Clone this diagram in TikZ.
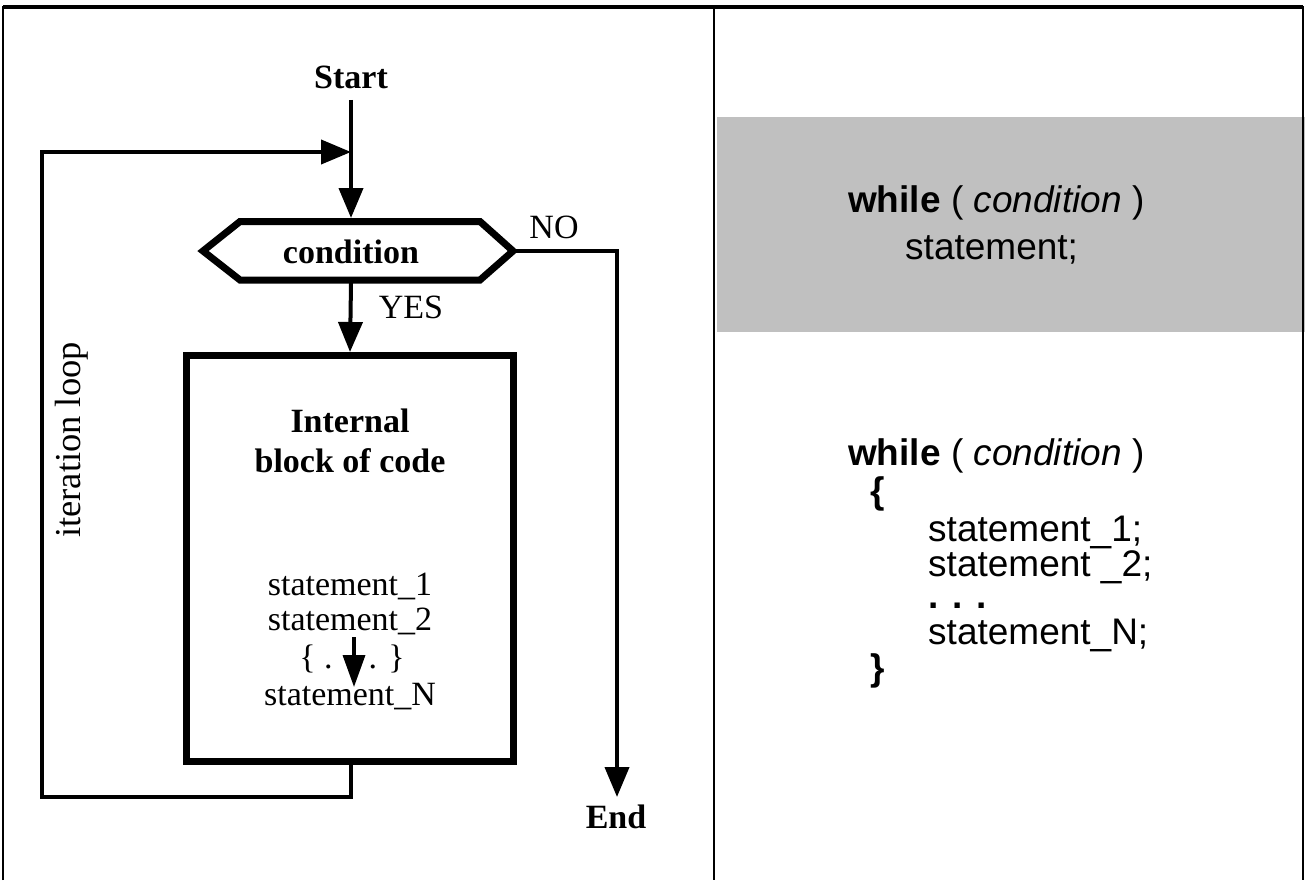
\documentclass[tikz,border=0pt]{standalone}
\usepackage{fontspec}
\setmainfont{Liberation Serif}
\newfontfamily\arialfont{Liberation Sans}
\usetikzlibrary{arrows.meta}
\definecolor{grayfill}{HTML}{C0C0C0}
\begin{document}
\begin{tikzpicture}[x=1pt,y=-1pt,
  frame/.style={line width=2.5pt},
  conn/.style={line width=4pt},
  arr/.style={conn, -{Triangle[length=30pt,width=24pt]}},
  shp/.style={line width=7pt, line join=miter},
  tms/.style={font=\fontsize{34}{38}\selectfont, inner sep=0pt, anchor=base},
  tmsb/.style={tms, font=\fontsize{34}{38}\selectfont\bfseries},
  ar/.style={font=\arialfont\fontsize{37}{42}\selectfont, inner sep=0pt, anchor=base west},
]
\useasboundingbox (0,0) rectangle (1305,880);
% frame
\fill[grayfill] (717,117) rectangle (1305,332);
\draw[frame] (3,880) -- (3,7) -- (1303,7) -- (1303,880);
\draw[line width=3.5pt] (3,7) -- (1303,7);
\draw[frame] (714,7) -- (714,880);

% right side code
\node[ar] (w1) at (848,212) {\textbf{while} ( \textit{condition} )};
\node[ar] (s) at (905,259) {statement;};
\node[ar] (w2) at (848,465) {\textbf{while} ( \textit{condition} )};
\node[ar] (lb) at (870,503) {\textbf{\{}};
\node[ar] (s1) at (928,541) {statement\_1;};
\node[ar] (s2) at (928,576) {statement \_2;};
\node[ar] (dots) at (928,608) {\textbf{. . .}};
\node[ar] (sN) at (928,644) {statement\_N;};
\node[ar] (rb) at (870,680) {\textbf{\}}};

% flowchart
\node[tmsb] (start) at (351,89) {Start};
\coordinate (s0) at (351,100);
\coordinate (j) at (351,152);
\coordinate (ht) at (351,218);
\coordinate (hb) at (351,283);
\coordinate (hl) at (203,251);
\coordinate (htl) at (240,221.5);
\coordinate (htr) at (480,221.5);
\coordinate (hr) at (513,251);
\coordinate (hbr) at (480,280);
\coordinate (hbl) at (240,280);
\draw[shp] (hl) -- (htl) -- (htr) -- (hr) -- (hbr) -- (hbl) -- cycle;
\node[tmsb] (cond) at (351,263) {condition};
\node[tms] (no) at (554,238) {NO};
\node[tms] (yes) at (411,318) {YES};

\node[draw, shp, minimum width=327pt, minimum height=406pt, inner sep=0pt] (blk) at (350,558.5) {};
\node[tmsb] (int1) at (350,432) {Internal};
\node[tmsb] (int2) at (350,472) {block of code};
\node[tms] (st1) at (350,595) {statement\_1};
\node[tms] (st2) at (350,630) {statement\_2};
\node[tms] (br) at (352,668) {\{ .\hspace{36pt}. \}};
\node[tms] (stN) at (350,705) {statement\_N};
\coordinate (ia0) at (354,637);
\coordinate (ia1) at (354,687);
\draw[line width=3.5pt, -{Triangle[length=32pt,width=22pt]}] (ia0) -- (ia1);

\coordinate (e0) at (617,797);
\node[tmsb] (end) at (616,828) {End};
\node[tms, rotate=90, font=\fontsize{36.5}{40}\selectfont] (iter) at (80,440) {iteration loop};

\draw[arr] (s0) -- (ht);
\draw[arr] (hb) -- (blk.north);
\draw[arr] (hr) -- (617,251) -- (e0);
\draw[arr] (blk.south -| j) -- (351,797) -- (42,797) -- (42,152) -- (j);
\end{tikzpicture}
\end{document}
